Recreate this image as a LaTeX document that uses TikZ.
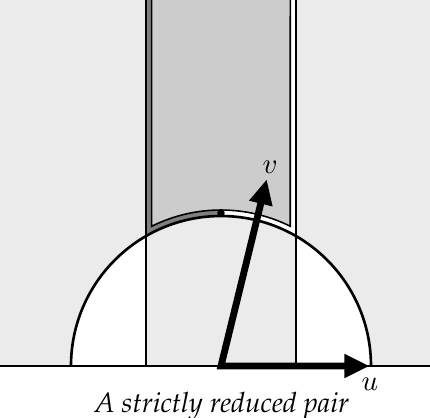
\documentclass[tikz,border=0pt]{standalone}
\usepackage[T1,TU]{fontenc}
\usetikzlibrary{arrows.meta}
\definecolor{bgray}{HTML}{EBEBEB}
\definecolor{stripgray}{HTML}{CCCCCC}
\definecolor{bandgray}{HTML}{7F7F7F}
\newcommand{\palit}{\fontencoding{T1}\fontfamily{ppl}\fontshape{it}\selectfont}
\begin{document}
\begin{tikzpicture}[x=2cm,y=2cm,
  thinline/.style={line width=0.8pt},
  arcline/.style={line width=1pt},
  vecline/.style={line width=2.6pt,line join=miter,{Triangle[length=9.5pt,width=8.5pt]}-{Triangle[length=9.5pt,width=8.5pt]}},
  veclabel/.style={font=\fontsize{10.5}{12}\selectfont,inner sep=0pt}]
\useasboundingbox (-1.4733,-0.34) rectangle (1.3933,2.44);
\clip (-1.4733,-0.34) rectangle (1.3933,2.44);
% background
\fill[bgray] (-1.5,0) rectangle (1.5,2.5);
\fill[white] (-1,0) arc[start angle=180,end angle=0,radius=1] -- cycle;
\fill[bgray] (-0.5,0) rectangle (0.5,1);
% bands of the fundamental domain
\fill[bandgray] (-0.5,2.6) -- (-0.5,{sqrt(3)/2}) arc[start angle=120,end angle=90,radius=1] -- (0,2.6) -- cycle;
\fill[white] (0,2.6) -- (0,1) arc[start angle=90,end angle=60,radius=1] -- (0.5,2.6) -- cycle;
% inner region
\filldraw[fill=stripgray,draw=black,line width=0.6pt]
  (-0.462,2.6) -- (-0.462,{sqrt(1.04^2-0.462^2)}) arc[start angle={180-acos(0.462/1.04)},end angle={acos(0.462/1.04)},radius=1.04] -- (0.462,2.6);
% boundary lines
\draw[thinline] (-0.5,0) -- (-0.5,2.6);
\draw[thinline] (0.5,0) -- (0.5,2.6);
\draw[arcline] (1,0) arc[start angle=0,end angle=180,radius=1];
\draw[arcline] (-1.5,0) -- (1.5,0);
\fill (0,1.02) circle[radius=0.025];
% vectors
\coordinate (O) at (0,0);
\coordinate (U) at (0.99,0);
\coordinate (V) at (0.305,1.245);
\draw[vecline] (V) -- (O) -- (U);
\node[veclabel] (lu) at (0.993,-0.12) {$u$};
\node[veclabel] (lv) at (0.327,1.327) {$v$};
\node[anchor=base,inner sep=0pt,font=\fontsize{10.6}{12}\palit] (cap) at (0.005,-0.313) {A strictly reduced pair};
\end{tikzpicture}
\end{document}
